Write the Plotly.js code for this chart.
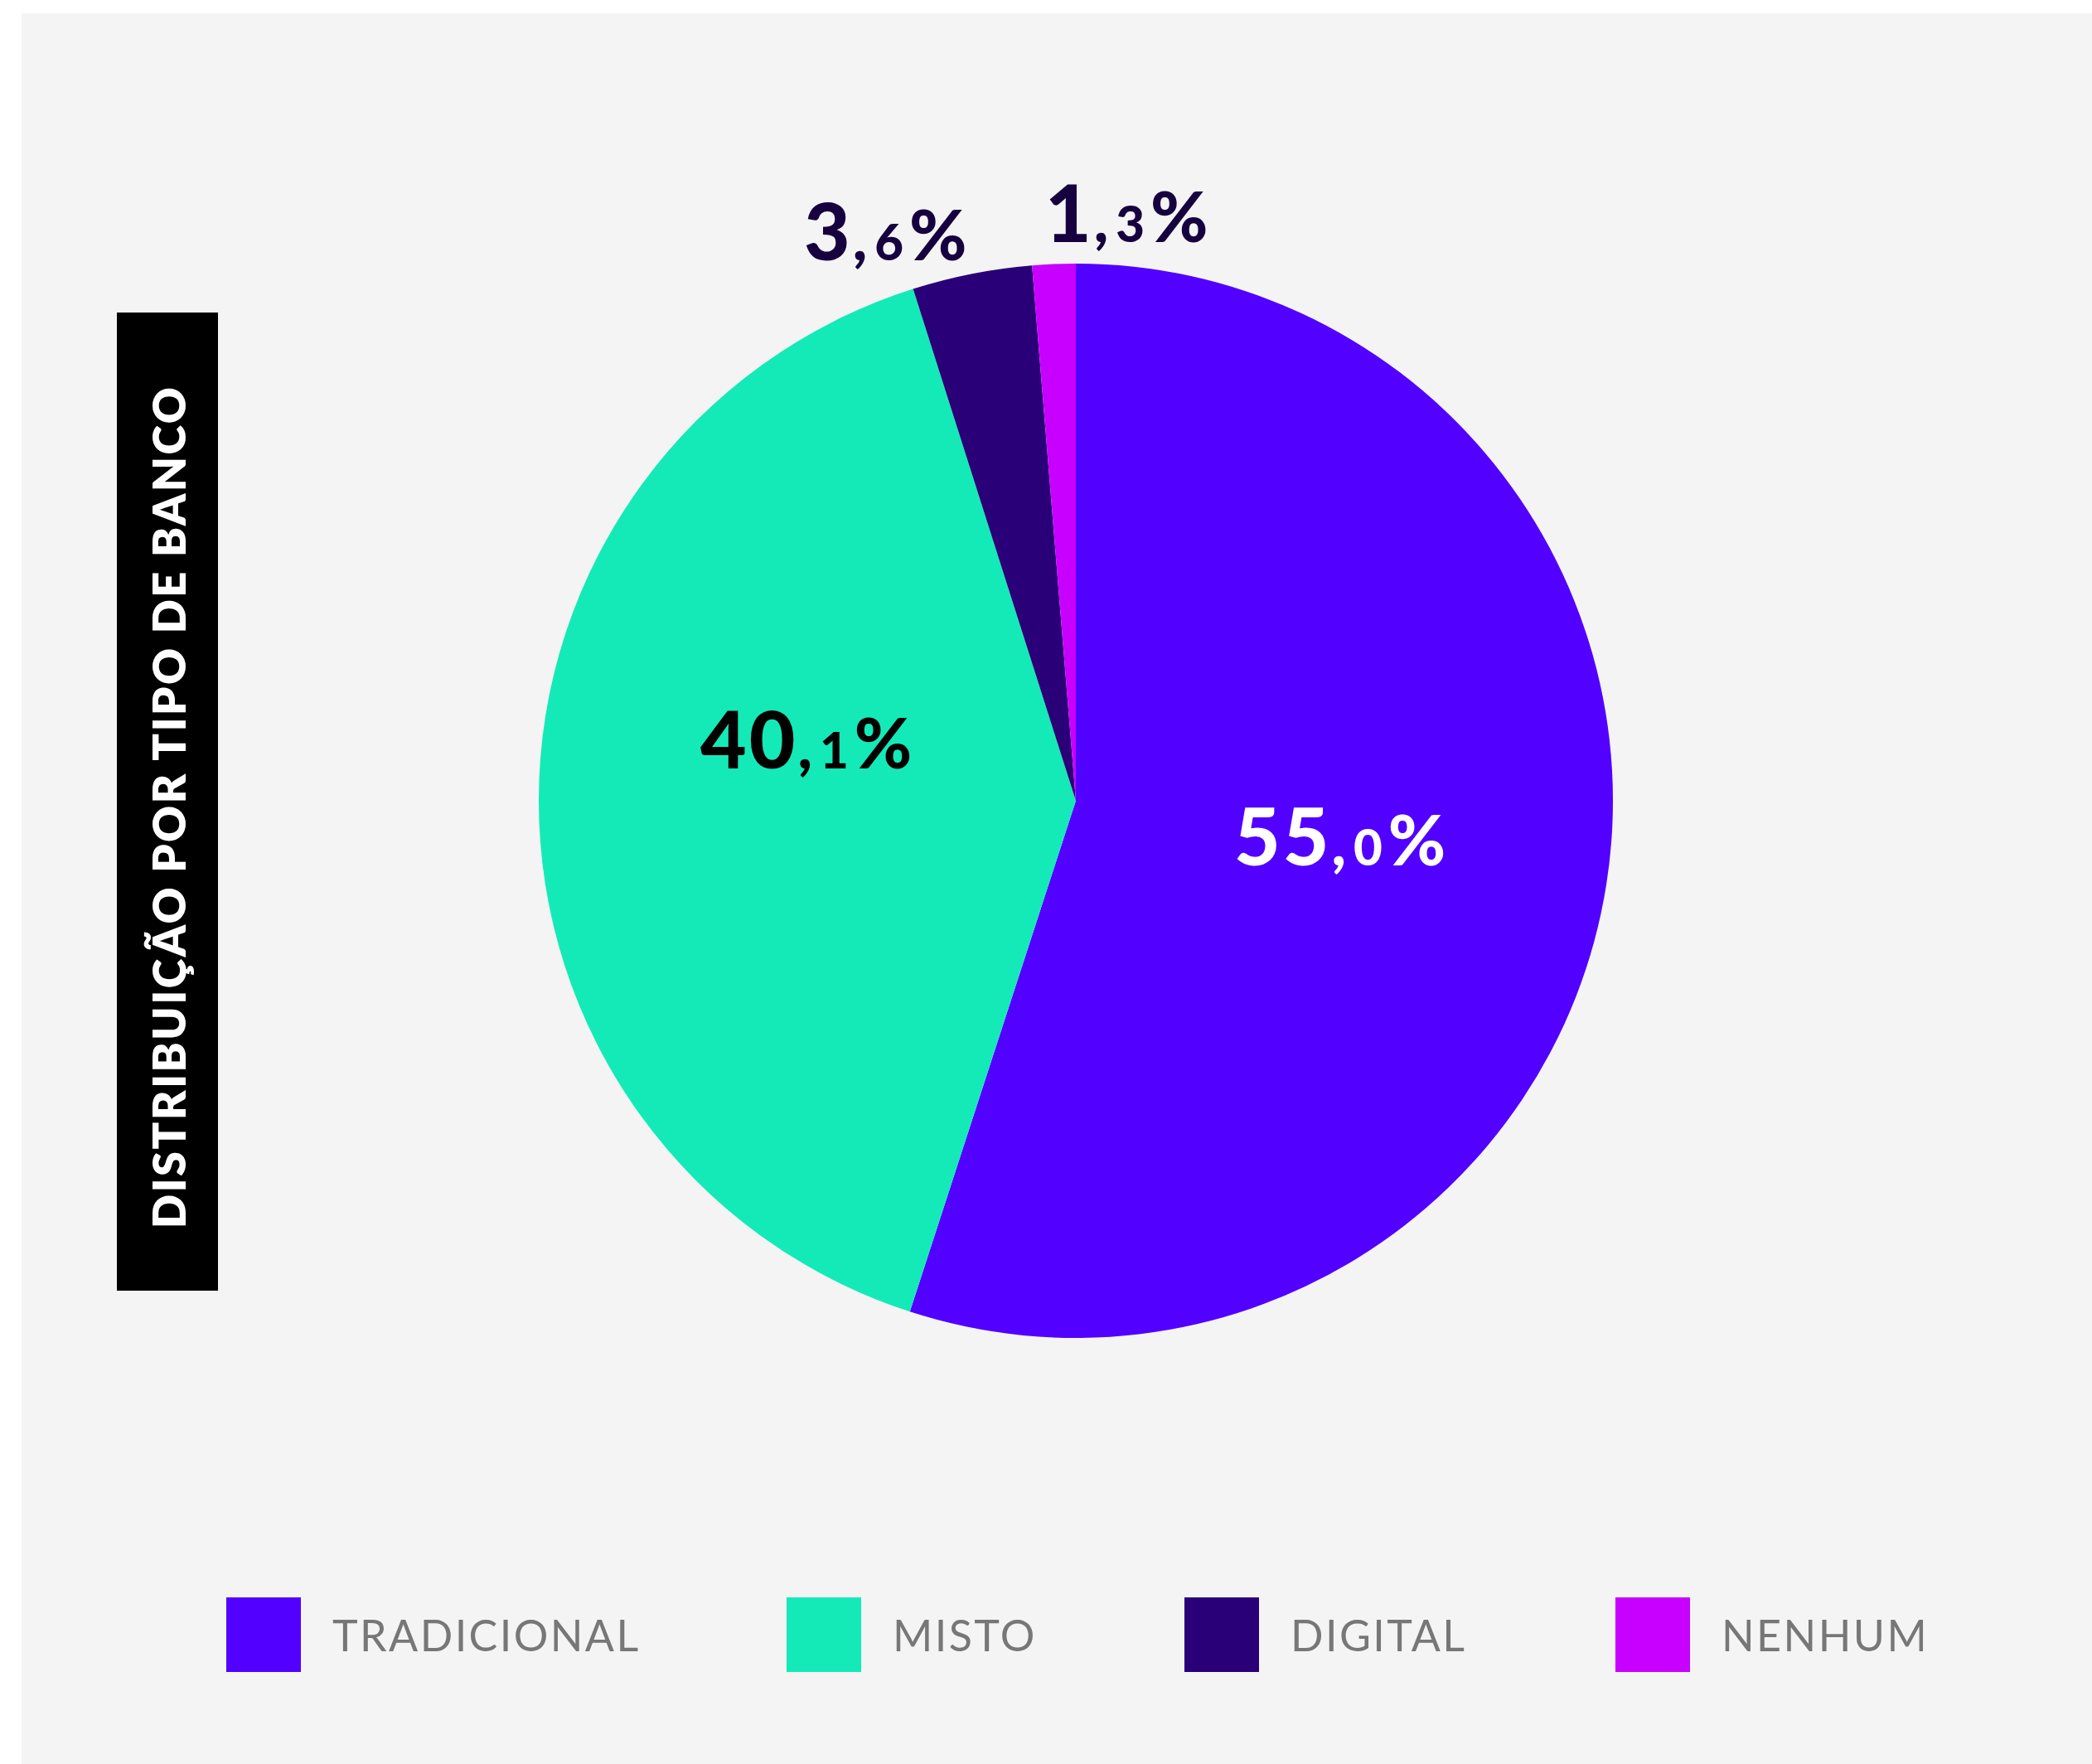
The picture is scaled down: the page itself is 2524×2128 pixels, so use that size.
<!DOCTYPE html>
<html><head><meta charset="utf-8">
<script src="https://cdn.plot.ly/plotly-3.0.1.min.js"></script>
<style>html,body{margin:0;padding:0;background:#fff;}#chart{width:2524px;height:2128px;}</style>
</head><body><div id="chart"></div>
<script>
// ---- data ----
const categories = ["TRADICIONAL", "MISTO", "DIGITAL", "NENHUM"];
const values = [55.0, 40.1, 3.6, 1.3];
const chartTitle = "DISTRIBUIÇÃO POR TIPO DE BANCO";

// ---- styles / layout ----
const sliceColors = ["#5200ff", "#14eab7", "#2a0078", "#c800ff"];
const labelColors = ["#ffffff", "#000000", "#16003f", "#16003f"];
const W = 2524, H = 2128;
const px = x => x / W, py = y => 1 - y / H;
const cx = 1298, cy = 966, R = 648;
const labelPos = [[1616, 1006], [972, 889], [1068, 276], [1359, 254]];
const legendX = [273, 949, 1429, 1949];
const legendY = 1972, sq = 90;

function fmtLabel(v) {
  const parts = v.toFixed(1).split(".");
  return '<span style="font-size:96px;letter-spacing:3px">' + parts[0] + '</span>' +
         '<span style="font-size:74px;letter-spacing:9px">,</span>' +
         '<span style="font-size:60px;letter-spacing:7px">' + parts[1] + '</span>' +
         '<span style="font-size:84px">%</span>';
}

const trace = {
  type: "pie",
  labels: categories,
  values: values,
  sort: false,
  direction: "clockwise",
  rotation: 0,
  textinfo: "none",
  hoverinfo: "label+percent",
  showlegend: false,
  marker: {colors: sliceColors, line: {width: 0}},
  domain: {x: [px(cx - R), px(cx + R)], y: [py(cy + R), py(cy - R)]}
};

const shapes = [
  {type: "rect", xref: "paper", yref: "paper", x0: px(26), x1: 1, y0: 0, y1: py(16),
   fillcolor: "#f4f4f4", line: {width: 0}, layer: "below"},
  {type: "rect", xref: "paper", yref: "paper", x0: px(141), x1: px(263), y0: py(1557), y1: py(377),
   fillcolor: "#000000", line: {width: 0}, layer: "below"}
];
const annotations = [
  {text: '<span style="letter-spacing:2.6px">' + chartTitle + '</span>', xref: "paper", yref: "paper",
   x: px(204), y: py(974), xanchor: "center", yanchor: "middle",
   textangle: -90, showarrow: false, font: {family: "Lato, Liberation Sans, sans-serif", size: 54, color: "#ffffff", weight: 800}}
];
categories.forEach((c, i) => {
  shapes.push({type: "rect", xref: "paper", yref: "paper",
    x0: px(legendX[i]), x1: px(legendX[i] + sq), y0: py(legendY + sq / 2), y1: py(legendY - sq / 2),
    fillcolor: sliceColors[i], line: {width: 0}});
  annotations.push({text: '<span style="letter-spacing:2.4px">' + c + '</span>', xref: "paper", yref: "paper",
    x: px(legendX[i] + 126), y: py(legendY), xanchor: "left", yanchor: "middle", showarrow: false,
    font: {family: "Lato, sans-serif", size: 52, color: "#777777"}});
  annotations.push({text: fmtLabel(values[i]), xref: "paper", yref: "paper",
    x: px(labelPos[i][0]), y: py(labelPos[i][1]), xanchor: "center", yanchor: "middle", showarrow: false,
    font: {family: "Lato, sans-serif", size: 96, color: labelColors[i], weight: 900}});
});

const layout = {
  width: W, height: H,
  margin: {l: 0, r: 0, t: 0, b: 0},
  paper_bgcolor: "#ffffff",
  showlegend: false,
  shapes: shapes,
  annotations: annotations
};
Plotly.newPlot("chart", [trace], layout, {displayModeBar: false, staticPlot: true});
</script></body></html>
